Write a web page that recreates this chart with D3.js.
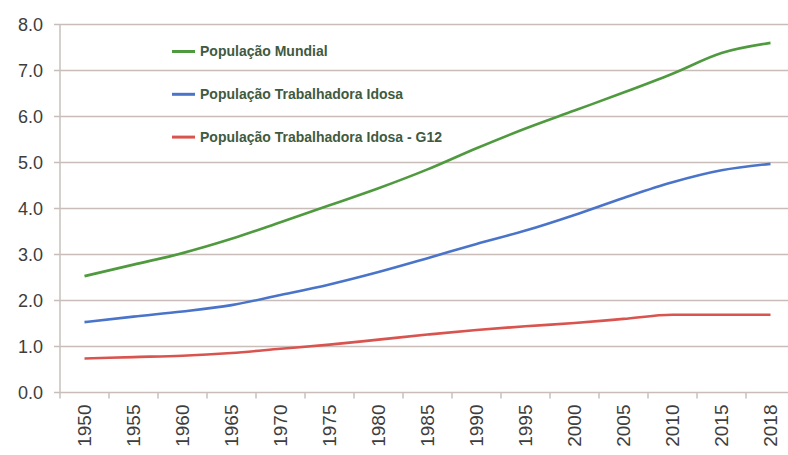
<!DOCTYPE html>
<html>
<head>
<meta charset="utf-8">
<script src="https://cdn.jsdelivr.net/npm/d3@7"></script>
<style>
  body { margin: 0; background: #fff; }
  svg { display: block; }
</style>
</head>
<body>
<div id="chart"></div>
<script>
const anos = ["1950","1955","1960","1965","1970","1975","1980","1985","1990","1995","2000","2005","2010","2015","2018"];
const populacaoMundial = [2.53, 2.78, 3.03, 3.34, 3.70, 4.07, 4.44, 4.85, 5.31, 5.74, 6.13, 6.52, 6.93, 7.38, 7.60];
const trabalhadoraIdosa = [1.53, 1.65, 1.76, 1.90, 2.12, 2.35, 2.62, 2.92, 3.23, 3.52, 3.86, 4.23, 4.57, 4.83, 4.97];
const trabalhadoraIdosaG12 = [0.74, 0.77, 0.80, 0.86, 0.95, 1.04, 1.15, 1.26, 1.36, 1.44, 1.51, 1.60, 1.69, 1.69, 1.69];
const yTicks = [0, 1, 2, 3, 4, 5, 6, 7, 8];

const series = [
  { nome: "População Mundial", valores: populacaoMundial, cor: "#4f9a3f" },
  { nome: "População Trabalhadora Idosa", valores: trabalhadoraIdosa, cor: "#4a74c9" },
  { nome: "População Trabalhadora Idosa - G12", valores: trabalhadoraIdosaG12, cor: "#d9544f" }
];

const W = 788, H = 455;
const svg = d3.select("#chart").append("svg")
  .attr("width", W).attr("height", H);

const x = d3.scaleBand().domain(anos).range([60, 60 + 15 * 49]);
const y = d3.scaleLinear().domain([0, 8]).range([392.5, 24.5]);

// grelha
svg.append("g")
  .selectAll("line")
  .data(yTicks)
  .enter().append("line")
  .attr("x1", 54).attr("x2", W)
  .attr("y1", d => y(d)).attr("y2", d => y(d))
  .attr("stroke", "#c9bdba")
  .attr("stroke-width", 1.5);

// eixo y
svg.append("line")
  .attr("x1", 60).attr("x2", 60)
  .attr("y1", y(8)).attr("y2", y(0))
  .attr("stroke", "#c9c0bd").attr("stroke-width", 1.5);

svg.append("g")
  .selectAll("text")
  .data(yTicks)
  .enter().append("text")
  .attr("x", 43)
  .attr("y", d => y(d))
  .attr("dy", "0.35em")
  .attr("text-anchor", "end")
  .attr("fill", "#3d3d3d")
  .attr("font-size", "18px")
  .attr("font-family", "Liberation Sans, Arial, sans-serif")
  .text(d => d3.format(".1f")(d));

// eixo x
const xAxis = svg.append("g")
  .attr("transform", `translate(0,${y(0)})`)
  .call(d3.axisBottom(x).tickSize(0).tickPadding(0));
xAxis.select(".domain").remove();

xAxis.selectAll(".tick-mark")
  .data(anos)
  .enter().append("line")
  .attr("class", "tick-mark")
  .attr("x1", d => x(d)).attr("x2", d => x(d))
  .attr("y1", 0).attr("y2", 6)
  .attr("stroke", "#c9c0bd").attr("stroke-width", 1.5);

xAxis.selectAll(".tick text")
  .attr("transform", "rotate(-90)")
  .attr("text-anchor", "end")
  .attr("x", -12)
  .attr("y", 0)
  .attr("dy", "0.35em")
  .attr("fill", "#3d3d3d")
  .attr("font-size", "19px")
  .attr("font-family", "Liberation Sans, Arial, sans-serif");

// linhas
const linha = d3.line()
  .x((d, i) => x(anos[i]) + x.bandwidth() / 2)
  .y(d => y(d))
  .curve(d3.curveMonotoneX);

svg.append("g")
  .selectAll("path")
  .data(series)
  .enter().append("path")
  .attr("d", d => linha(d.valores))
  .attr("fill", "none")
  .attr("stroke", d => d.cor)
  .attr("stroke-width", 2.6);

// legenda
const leg = svg.append("g")
  .selectAll("g")
  .data(series)
  .enter().append("g")
  .attr("transform", (d, i) => `translate(172,${51.5 + i * 42.8})`);

leg.append("line")
  .attr("x1", 0).attr("x2", 23)
  .attr("stroke", d => d.cor)
  .attr("stroke-width", 3);

leg.append("text")
  .attr("x", 28)
  .attr("dy", "0.35em")
  .attr("fill", "#3f5a3f")
  .attr("font-size", "14px")
  .attr("font-weight", "bold")
  .attr("font-family", "Liberation Sans, Arial, sans-serif")
  .text(d => d.nome);
</script>
</body>
</html>
